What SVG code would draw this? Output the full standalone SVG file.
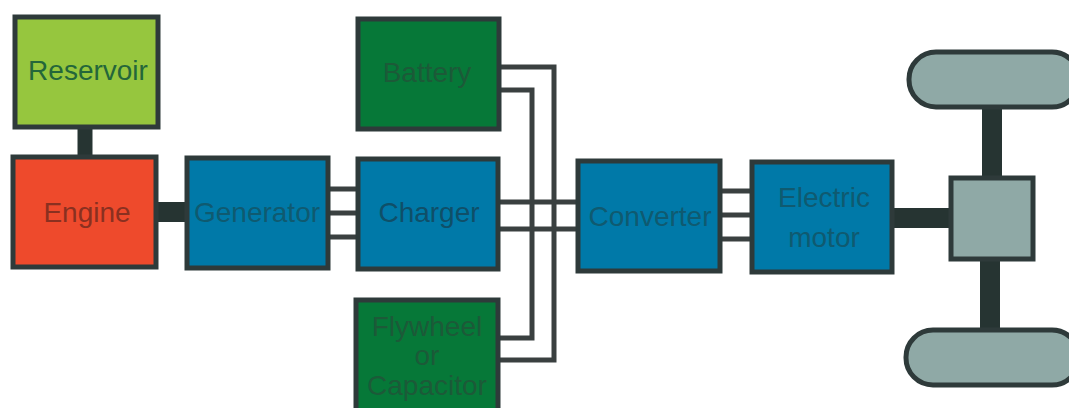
<svg xmlns="http://www.w3.org/2000/svg" width="1069" height="408" viewBox="0 0 1069 408">
<style>
.box{stroke:#2e3a3a;stroke-width:5}
.lime{fill:#96c63e}.red{fill:#ee4a2c}.blue{fill:#0079a8}.green{fill:#067838}.grey{fill:#8fa9a6}
.thin{fill:none;stroke:#3a4040;stroke-width:5}
.thick{fill:none;stroke:#263432;stroke-width:20}
.mid{fill:none;stroke:#263432;stroke-width:15}
text{font-family:"Liberation Sans",Arial,sans-serif;text-anchor:middle;font-size:28px}
</style>
<rect width="1069" height="408" fill="#fff"/>
<g id="connectors">
<path class="mid" d="M85 127V157"/>
<path class="thick" d="M157 212H187"/>
<path class="thin" d="M328 189H358M328 213H358M328 237H358"/>
<path class="thin" d="M498 202H578M498 229H578"/>
<path class="thin" d="M498 67H554V360H498"/>
<path class="thin" d="M498 90H532V338H498"/>
<path class="thin" d="M720 191H752M720 215H752M720 239H752"/>
<path class="thick" d="M892 218H952"/>
<path class="thick" d="M992 108V178"/>
<path class="thick" d="M990 260V330"/>
</g>
<g id="reservoir"><rect class="box lime" x="15" y="17" width="143" height="110"/><text x="88" y="80" fill="#24663a" font-size="30">Reservoir</text></g>
<g id="engine"><rect class="box red" x="13" y="157" width="143" height="110"/><text x="87" y="222" fill="#8a3020" font-size="30">Engine</text></g>
<g id="generator"><rect class="box blue" x="187" y="158" width="141" height="110"/><text x="257" y="222" fill="#0f5a70" font-size="27">Generator</text></g>
<g id="charger"><rect class="box blue" x="358" y="159" width="140" height="110"/><text x="429" y="222" fill="#0f4f68" font-size="30">Charger</text></g>
<g id="battery"><rect class="box green" x="358" y="19" width="141" height="110"/><text x="427" y="82" fill="#1c5a38" font-size="28">Battery</text></g>
<g id="flywheel"><rect class="box green" x="356" y="300" width="142" height="112"/><text fill="#1c5a38" font-size="30"><tspan x="427" y="336">Flywheel</tspan><tspan x="427" y="365">or</tspan><tspan x="427" y="395">Capacitor</tspan></text></g>
<g id="converter"><rect class="box blue" x="578" y="161" width="142" height="110"/><text x="650" y="226" fill="#0f5a70" font-size="28">Converter</text></g>
<g id="motor"><rect class="box blue" x="752" y="162" width="140" height="110"/><text fill="#0f5a70" font-size="28"><tspan x="824" y="207">Electric</tspan><tspan x="824" y="247">motor</tspan></text></g>
<g id="differential"><rect class="box grey" x="951" y="178" width="82" height="81"/></g>
<g id="wheel-top"><rect class="box grey" x="909" y="52" width="170" height="55" rx="27" ry="27"/></g>
<g id="wheel-bottom"><rect class="box grey" x="906" y="330" width="173" height="55" rx="27" ry="27"/></g>
</svg>
